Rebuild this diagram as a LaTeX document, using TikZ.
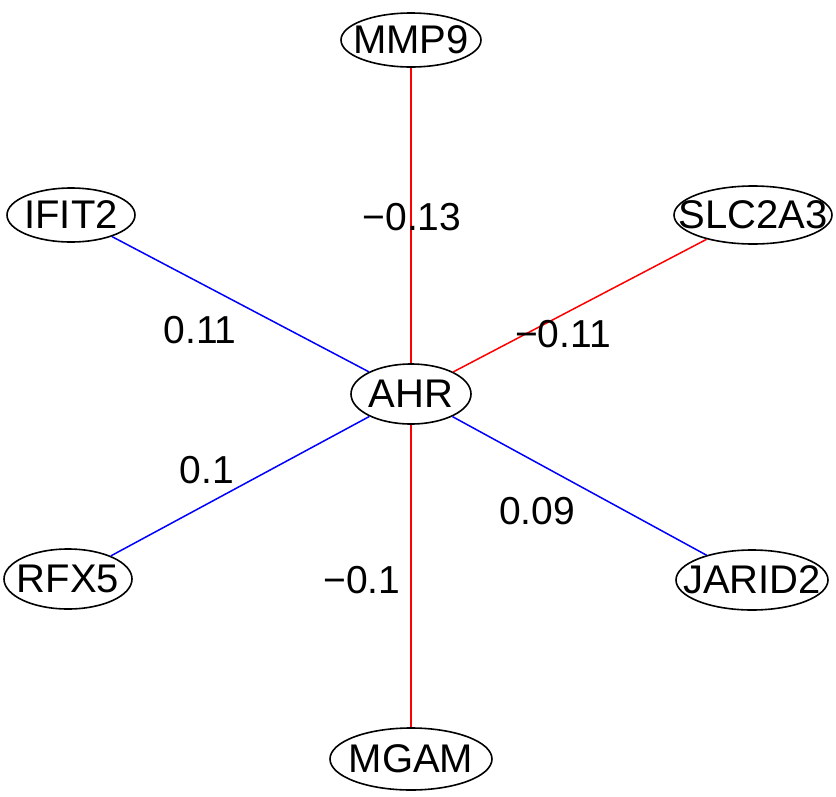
\documentclass[tikz,border=0pt]{standalone}
\usepackage{fontspec}
\setmainfont{Liberation Sans}
\usetikzlibrary{shapes.geometric}
\begin{document}
\begin{tikzpicture}[x=1pt,y=-1pt,
  gene/.style={ellipse,draw=black,line width=1.6pt,inner sep=0pt,
    label={[font=\fontsize{40}{40}\selectfont,inner sep=0pt]center:#1}},
  posedge/.style={draw=blue,line width=1.5pt},
  negedge/.style={draw=red,line width=1.5pt},
  wlab/.style={font=\fontsize{39}{39}\selectfont,inner sep=0pt}]
\useasboundingbox (0,0) rectangle (836,796);
\node[gene=MMP9,minimum width=140pt,minimum height=54pt] (MMP9) at (411,40) {};
\node[gene=IFIT2,minimum width=128pt,minimum height=54pt] (IFIT2) at (71,215) {};
\node[gene=SLC2A3,minimum width=158pt,minimum height=58pt] (SLC2A3) at (753,215) {};
\node[gene=AHR,minimum width=120pt,minimum height=60pt] (AHR) at (411,394) {};
\node[gene=RFX5,minimum width=128pt,minimum height=60pt] (RFX5) at (68,579) {};
\node[gene=JARID2,minimum width=152pt,minimum height=60pt] (JARID2) at (752,580) {};
\node[gene=MGAM,minimum width=162pt,minimum height=62pt] (MGAM) at (411,759) {};
\draw[negedge] (AHR) -- (MMP9);
\draw[posedge] (AHR) -- (IFIT2);
\draw[negedge] (AHR) -- (SLC2A3);
\draw[posedge] (AHR) -- (RFX5);
\draw[posedge] (AHR) -- (JARID2);
\draw[negedge] (AHR) -- (MGAM);
\node[wlab] (l1) at (412,217) {−0.13};
\node[wlab] (l2) at (200,330) {0.11};
\node[wlab] (l3) at (563,334) {−0.11};
\node[wlab] (l4) at (207,470) {0.1};
\node[wlab] (l5) at (537,511) {0.09};
\node[wlab] (l6) at (362,580) {−0.1};
\end{tikzpicture}
\end{document}
